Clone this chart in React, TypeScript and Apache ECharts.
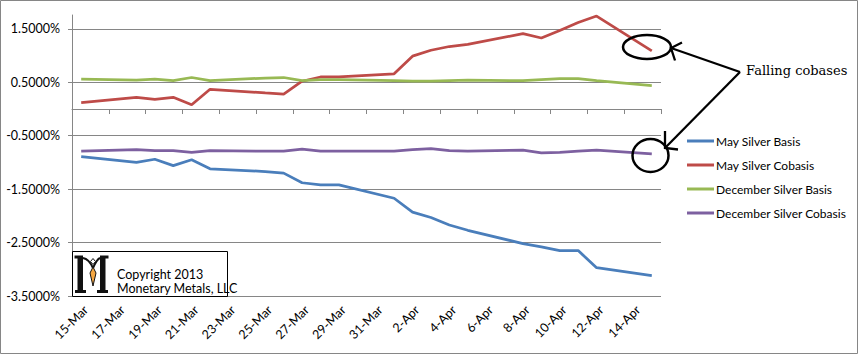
import React, { useEffect, useRef } from "react";
import * as echarts from "echarts";

const days = [
  "15-Mar", "16-Mar", "17-Mar", "18-Mar", "19-Mar", "20-Mar", "21-Mar", "22-Mar",
  "23-Mar", "24-Mar", "25-Mar", "26-Mar", "27-Mar", "28-Mar", "29-Mar", "30-Mar",
  "31-Mar", "1-Apr", "2-Apr", "3-Apr", "4-Apr", "5-Apr", "6-Apr", "7-Apr",
  "8-Apr", "9-Apr", "10-Apr", "11-Apr", "12-Apr", "13-Apr", "14-Apr", "15-Apr",
];

const tradeDates = [
  "15-Mar", "18-Mar", "19-Mar", "20-Mar", "21-Mar", "22-Mar", "25-Mar", "26-Mar",
  "27-Mar", "28-Mar", "29-Mar", "1-Apr", "2-Apr", "3-Apr", "4-Apr", "5-Apr",
  "8-Apr", "9-Apr", "10-Apr", "11-Apr", "12-Apr", "15-Apr",
];

const maySilverBasis = [
  -0.89, -1.0, -0.94, -1.06, -0.95, -1.12, -1.17, -1.2, -1.38, -1.42, -1.42,
  -1.67, -1.93, -2.03, -2.17, -2.27, -2.52, -2.58, -2.65, -2.65, -2.97, -3.12,
];
const maySilverCobasis = [
  0.12, 0.22, 0.18, 0.22, 0.08, 0.37, 0.3, 0.28, 0.52, 0.6, 0.6,
  0.66, 0.99, 1.1, 1.17, 1.21, 1.41, 1.33, 1.47, 1.62, 1.74, 1.09,
];
const decSilverBasis = [
  0.56, 0.54, 0.56, 0.53, 0.59, 0.53, 0.58, 0.59, 0.53, 0.55, 0.55,
  0.53, 0.52, 0.52, 0.53, 0.54, 0.53, 0.55, 0.57, 0.57, 0.53, 0.44,
];
const decSilverCobasis = [
  -0.79, -0.76, -0.78, -0.78, -0.81, -0.78, -0.79, -0.79, -0.75, -0.79, -0.79,
  -0.79, -0.76, -0.74, -0.78, -0.79, -0.77, -0.82, -0.81, -0.79, -0.77, -0.84,
];

const yTicks = [-3.5, -2.5, -1.5, -0.5, 0.5, 1.5];

const seriesNames = [
  "May Silver Basis",
  "May Silver Cobasis",
  "December Silver Basis",
  "December Silver Cobasis",
];
const seriesColors = ["#4A7EBB", "#BE4B48", "#98B954", "#7D60A0"];
const seriesValues = [maySilverBasis, maySilverCobasis, decSilverBasis, decSilverCobasis];

const FONT = "Lato, 'Liberation Sans', sans-serif";

function toDaily(values: number[]): (number | null)[] {
  return days.map((d) => {
    const i = tradeDates.indexOf(d);
    return i >= 0 ? values[i] : null;
  });
}

export default function App() {
  const ref = useRef<HTMLDivElement>(null);

  useEffect(() => {
    if (!ref.current) return;
    const chart = echarts.init(ref.current, null, { renderer: "svg" });
    const black = "#000000";
    const gray = "#868686";
    const ink = "#111111";

    const option: any = {
      animation: false,
      backgroundColor: "#ffffff",
      grid: { left: 72, right: 198, top: 15, bottom: 59, containLabel: false },
      legend: {
        orient: "vertical",
        left: 682,
        top: 129,
        icon: "rect",
        itemWidth: 27,
        itemHeight: 3,
        itemGap: 10,
        textStyle: { fontFamily: FONT, fontSize: 12, color: black, lineHeight: 14, padding: [0, 0, 0, -3] },
        data: seriesNames,
      },
      xAxis: {
        type: "category",
        data: days,
        boundaryGap: true,
        axisLine: { show: true, lineStyle: { color: gray, width: 1 } },
        axisTick: { show: true, interval: 1, alignWithLabel: false, length: 5, lineStyle: { color: gray } },
        axisLabel: {
          interval: 1,
          rotate: 45,
          margin: 7,
          verticalAlign: "top",
          fontFamily: FONT,
          fontSize: 12.5,
          color: black,
        },
        splitLine: { show: false },
      },
      yAxis: {
        type: "value",
        min: -3.5,
        max: 1.76,
        interval: 1,
        axisLine: { show: true, lineStyle: { color: gray, width: 1 } },
        axisTick: { show: true, length: 4, lineStyle: { color: gray }, customValues: yTicks },
        axisLabel: {
          customValues: yTicks,
          margin: 12,
          fontFamily: FONT,
          fontSize: 12.5,
          color: black,
          formatter: (v: number) => v.toFixed(4) + "%",
        },
        splitLine: { show: true, lineStyle: { color: gray, width: 1 } },
      },
      series: seriesNames.map((name, i) => ({
        name,
        type: "line",
        data: toDaily(seriesValues[i]),
        connectNulls: true,
        symbol: "none",
        smooth: false,
        color: seriesColors[i],
        lineStyle: { color: seriesColors[i], width: 2.75 },
      })),
      graphic: [
        {
          type: "rect",
          silent: true,
          shape: { x: 0.5, y: 0.5, width: 857, height: 353 },
          style: { fill: "none", stroke: gray, lineWidth: 1 },
          z: 100,
        },
        // logo box
        {
          type: "rect",
          shape: { x: 72.5, y: 251.5, width: 155, height: 45 },
          style: { fill: "#ffffff", stroke: "#000000", lineWidth: 1 },
          z: 100,
        },
        { type: "rect", z: 102, shape: { x: 77.5, y: 257, width: 5.5, height: 35 }, style: { fill: ink } },
        { type: "rect", z: 102, shape: { x: 75, y: 290, width: 11, height: 3 }, style: { fill: ink } },
        { type: "rect", z: 102, shape: { x: 74.5, y: 255.5, width: 8.5, height: 3 }, style: { fill: ink } },
        { type: "rect", z: 102, shape: { x: 100, y: 257, width: 5.5, height: 35 }, style: { fill: ink } },
        { type: "rect", z: 102, shape: { x: 97, y: 290, width: 11, height: 3 }, style: { fill: ink } },
        { type: "rect", z: 102, shape: { x: 100, y: 255.5, width: 8.5, height: 3 }, style: { fill: ink } },
        {
          type: "bezierCurve",
          z: 102,
          shape: { x1: 83, y1: 258, x2: 93, y2: 268, cpx1: 89, cpy1: 259 },
          style: { stroke: ink, lineWidth: 2, fill: "none" },
        },
        {
          type: "bezierCurve",
          z: 102,
          shape: { x1: 100, y1: 258, x2: 93, y2: 268, cpx1: 97, cpy1: 259 },
          style: { stroke: ink, lineWidth: 2, fill: "none" },
        },
        {
          type: "polygon",
          z: 103,
          shape: { points: [[93, 258.5], [95.5, 261.5], [93, 264.5], [90.5, 261.5]] },
          style: { fill: "#ffffff", stroke: ink, lineWidth: 1 },
        },
        {
          type: "polygon",
          z: 103,
          shape: { points: [[93, 267], [96, 273], [93, 286], [90, 273]] },
          style: { fill: "#F5A742", stroke: ink, lineWidth: 1 },
        },
        {
          type: "text",
          x: 117,
          y: 268,
          z: 101,
          style: { text: "Copyright 2013", fontFamily: FONT, fontSize: 12.5, fill: "#000" },
        },
        {
          type: "text",
          x: 117,
          y: 282,
          z: 101,
          style: { text: "Monetary Metals, LLC", fontFamily: FONT, fontSize: 12.5, fill: "#000" },
        },
        // annotation ellipses
        {
          type: "ellipse",
          shape: { cx: 647, cy: 47, rx: 24, ry: 12 },
          style: { fill: "none", stroke: "#000", lineWidth: 2.5 },
          z: 100,
        },
        {
          type: "ellipse",
          shape: { cx: 650.5, cy: 155.5, rx: 18, ry: 16.5 },
          style: { fill: "none", stroke: "#000", lineWidth: 2.5 },
          z: 100,
        },
        // arrows
        {
          type: "line",
          shape: { x1: 740, y1: 72, x2: 671, y2: 48 },
          style: { stroke: "#000", lineWidth: 2.3 },
          z: 100,
        },
        {
          type: "polyline",
          shape: { points: [[682, 42.5], [671, 48], [675, 60.5]] },
          style: { stroke: "#000", lineWidth: 2.3, fill: "none" },
          z: 100,
        },
        {
          type: "line",
          shape: { x1: 740, y1: 72, x2: 665, y2: 148 },
          style: { stroke: "#000", lineWidth: 2.3 },
          z: 100,
        },
        {
          type: "polyline",
          shape: { points: [[665, 131], [665, 148], [678, 149.5]] },
          style: { stroke: "#000", lineWidth: 2.3, fill: "none" },
          z: 100,
        },
        {
          type: "text",
          x: 746,
          y: 70,
          z: 100,
          style: {
            text: "Falling cobases",
            fontFamily: "'DejaVu Serif', serif",
            fontSize: 13,
            fill: "#000",
            verticalAlign: "middle",
          },
        },
      ],
    };

    chart.setOption(option);
    return () => chart.dispose();
  }, []);

  return (
    <div
      ref={ref}
      style={{ position: "absolute", left: 0, top: 0, width: 859, height: 355, background: "#fff" }}
    />
  );
}
